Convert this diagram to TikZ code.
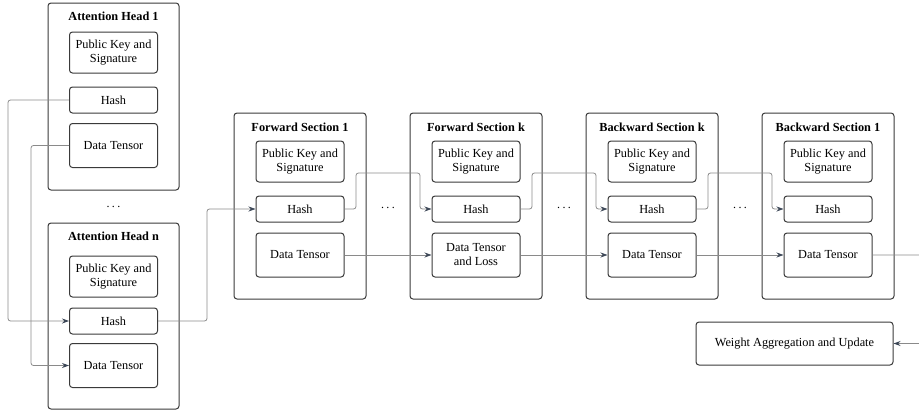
\documentclass[tikz,border=0pt]{standalone}
\usepackage{fontspec}
\setmainfont{Liberation Serif}
\usetikzlibrary{arrows.meta}
\definecolor{boxc}{HTML}{3A3A3A}
\definecolor{linec}{HTML}{8A8A8A}
\definecolor{tipc}{HTML}{3B4656}
\tikzset{
  outerbox/.style={draw=boxc, line width=1pt, rounded corners=3pt, minimum width=131pt, minimum height=186pt, inner sep=0pt},
  innerbox/.style={draw=boxc, line width=1pt, rounded corners=3pt, minimum width=88pt, inner sep=0pt, align=center, font=\fontsize{12.3}{14}\selectfont},
  pkbox/.style={innerbox, minimum height=41pt},
  hashbox/.style={innerbox, minimum height=26pt},
  dtbox/.style={innerbox, minimum height=44pt},
  titletext/.style={font=\fontsize{12.3}{14}\selectfont\bfseries, inner sep=0pt},
  dotstext/.style={font=\fontsize{12}{14}\selectfont, inner sep=0pt},
  conn/.style={draw=linec, line width=0.8pt, rounded corners=2.5pt},
  arr/.style={conn, -{Stealth[length=7pt,width=5pt,color=tipc]}}
}
\newcommand{\spdots}{.\kern2.5pt.\kern2.5pt.}
\begin{document}
\begin{tikzpicture}[x=1pt,y=-1pt]
\useasboundingbox (0,0) rectangle (919,410);
% Attention Head 1
\node[outerbox, minimum height=187pt] (a1) at (113.5,96.5) {};
\node[titletext] (a1t) at (113.5,16) {Attention Head 1};
\node[pkbox] (a1p) at (113.5,52.5) {Public Key and\\Signature};
\node[hashbox] (a1h) at (113.5,100) {Hash};
\node[dtbox] (a1d) at (113.5,145.5) {Data Tensor};
\node[dotstext] (adots) at (113.5,207) {\spdots};
% Attention Head n
\node[outerbox] (an) at (113.5,316) {};
\node[titletext] (ant) at (113.5,236) {Attention Head n};
\node[pkbox] (anp) at (113.5,276.5) {Public Key and\\Signature};
\node[hashbox] (anh) at (113.5,321) {Hash};
\node[dtbox] (and) at (113.5,365.5) {Data Tensor};
% Sections
\foreach \cx/\nm/\ttl in {300/f1/Forward Section 1, 476/fk/Forward Section k, 652/bk/Backward Section k, 828/b1/Backward Section 1}{
  \node[outerbox, minimum width=132pt] (\nm) at (\cx,206) {};
  \node[titletext] (\nm t) at (\cx,127) {\ttl};
  \node[pkbox] (\nm p) at (\cx,161.5) {Public Key and\\Signature};
  \node[hashbox] (\nm h) at (\cx,209) {Hash};
}
\node[dtbox] (f1d) at (300,255) {Data Tensor};
\node[dtbox] (fkd) at (476,255) {Data Tensor\\and Loss};
\node[dtbox] (bkd) at (652,255) {Data Tensor};
\node[dtbox] (b1d) at (828,255) {Data Tensor};
\node[dotstext] (d1) at (388,208) {\spdots};
\node[dotstext] (d2) at (564,208) {\spdots};
\node[dotstext] (d3) at (740,208) {\spdots};
% Weight aggregation
\node[innerbox, minimum width=197pt, minimum height=43pt] (wau) at (794.5,343.5) {Weight Aggregation and Update};
% Connectors
\draw[arr] (a1h.west) -- (8,100) -- (8,321) -- (anh.west);
\draw[arr] (a1d.west) -- (31,145.5) -- (31,365.5) -- (and.west);
\draw[arr] (anh.east) -- (207,321) -- (207,209) -- (f1h.west);
\draw[arr] (f1h.east) -- (356,209) -- (356,173) -- (420,173) -- (420,209) -- (fkh.west);
\draw[arr] (fkh.east) -- (532,209) -- (532,173) -- (596,173) -- (596,209) -- (bkh.west);
\draw[arr] (bkh.east) -- (708,209) -- (708,173) -- (772,173) -- (772,209) -- (b1h.west);
\draw[arr] (f1d.east) -- (fkd.west);
\draw[arr] (fkd.east) -- (bkd.west);
\draw[arr] (bkd.east) -- (b1d.west);
\draw[arr] (b1d.east) -- (922,255) -- (922,343.5) -- (wau.east);
\end{tikzpicture}
\end{document}
